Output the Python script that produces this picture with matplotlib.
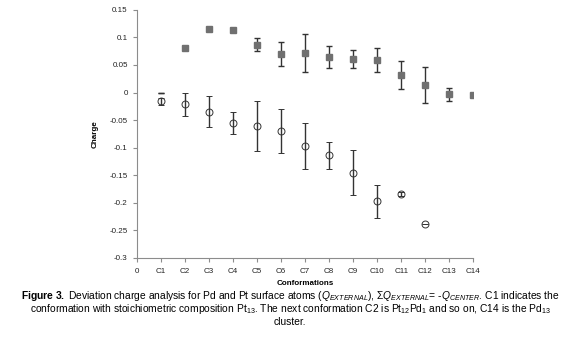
import numpy as np
import matplotlib
matplotlib.use("Agg")
import matplotlib.pyplot as plt

# fonts
plt.rcParams['font.family'] = ['Liberation Sans', 'DejaVu Sans']
plt.rcParams['mathtext.fontset'] = 'custom'
plt.rcParams['mathtext.rm'] = 'Liberation Sans'
plt.rcParams['mathtext.it'] = 'Liberation Sans:italic'
plt.rcParams['mathtext.bf'] = 'Liberation Sans:bold'

# data
tick_labels = ['0'] + ['C' + str(i) for i in range(1, 15)]
conf = np.arange(1, 15)

# grey squares (first series), C1 has no value
pd_charge = [np.nan, 0.081, 0.115, 0.114, 0.087, 0.070, 0.072, 0.064, 0.061, 0.059, 0.032, 0.014, -0.003, -0.005]
pd_err = [0, 0, 0, 0, 0.012, 0.022, 0.034, 0.020, 0.017, 0.022, 0.025, 0.033, 0.012, 0]

# open circles (second series)
pt_charge = [-0.016, -0.021, -0.035, -0.056, -0.061, -0.069, -0.097, -0.114, -0.145, -0.197, -0.184, -0.238, np.nan, np.nan]
pt_err = [0.006, 0.021, 0.028, 0.020, 0.045, 0.040, 0.042, 0.025, 0.040, 0.030, 0.004, 0, 0, 0]

fig = plt.figure(figsize=(5.8, 3.39), dpi=100)
ax = fig.add_axes([0.236, 0.239, 0.58, 0.732])

# lone cap at zero for C1
ax.errorbar([1], [0], yerr=[0], fmt='none', ecolor='#333333', elinewidth=1, capsize=2.2)

ax.errorbar(conf, pd_charge, yerr=pd_err, fmt='s', color='#707070', ms=4.5,
            ecolor='#333333', elinewidth=1, capsize=2.2, capthick=1)
ax.errorbar(conf, pt_charge, yerr=pt_err, fmt='o', mfc='none', mec='#333333', mew=0.7, ms=5,
            ecolor='#333333', elinewidth=1, capsize=2.2, capthick=1)

ax.set_xlim(0, 14)
ax.set_ylim(-0.3, 0.15)
ax.set_xticks(np.arange(0, 15))
ax.set_xticklabels(tick_labels)
ax.set_yticks(np.arange(-0.3, 0.151, 0.05))
ax.set_yticklabels(['-0.3', '-0.25', '-0.2', '-0.15', '-0.1', '-0.05', '0', '0.05', '0.1', '0.15'])

for s in ['top', 'right']:
    ax.spines[s].set_visible(False)
for s in ['left', 'bottom']:
    ax.spines[s].set_color('#8c8c8c')
    ax.spines[s].set_linewidth(0.8)
ax.tick_params(axis='both', colors='#8c8c8c', labelcolor='#222222', labelsize=5.8, length=3, width=0.8)
ax.tick_params(axis='x', pad=4)

ax.set_xlabel('Conformations', fontsize=5.8, fontweight='bold', labelpad=4)
ax.set_ylabel('Charge', fontsize=5.8, fontweight='bold', labelpad=8)

# caption
cap1 = (r'$\mathbf{Figure\ 3.}$ Deviation charge analysis for Pd and Pt surface atoms '
        r'($Q_{EXTERNAL}$), Σ$Q_{EXTERNAL}$= -$Q_{CENTER}$. C1 indicates the')
cap2 = (r'conformation with stoichiometric composition Pt$_{13}$. The next conformation C2 is '
        r'Pt$_{12}$Pd$_{1}$ and so on, C14 is the Pd$_{13}$')
cap3 = 'cluster.'
fig.text(0.5, 1 - 296 / 339, cap1, ha='center', va='center', fontsize=7.4)
fig.text(0.5, 1 - 309.5 / 339, cap2, ha='center', va='center', fontsize=7.4)
fig.text(0.5, 1 - 322 / 339, cap3, ha='center', va='center', fontsize=7.4)

fig.savefig('out.png', dpi=100)
